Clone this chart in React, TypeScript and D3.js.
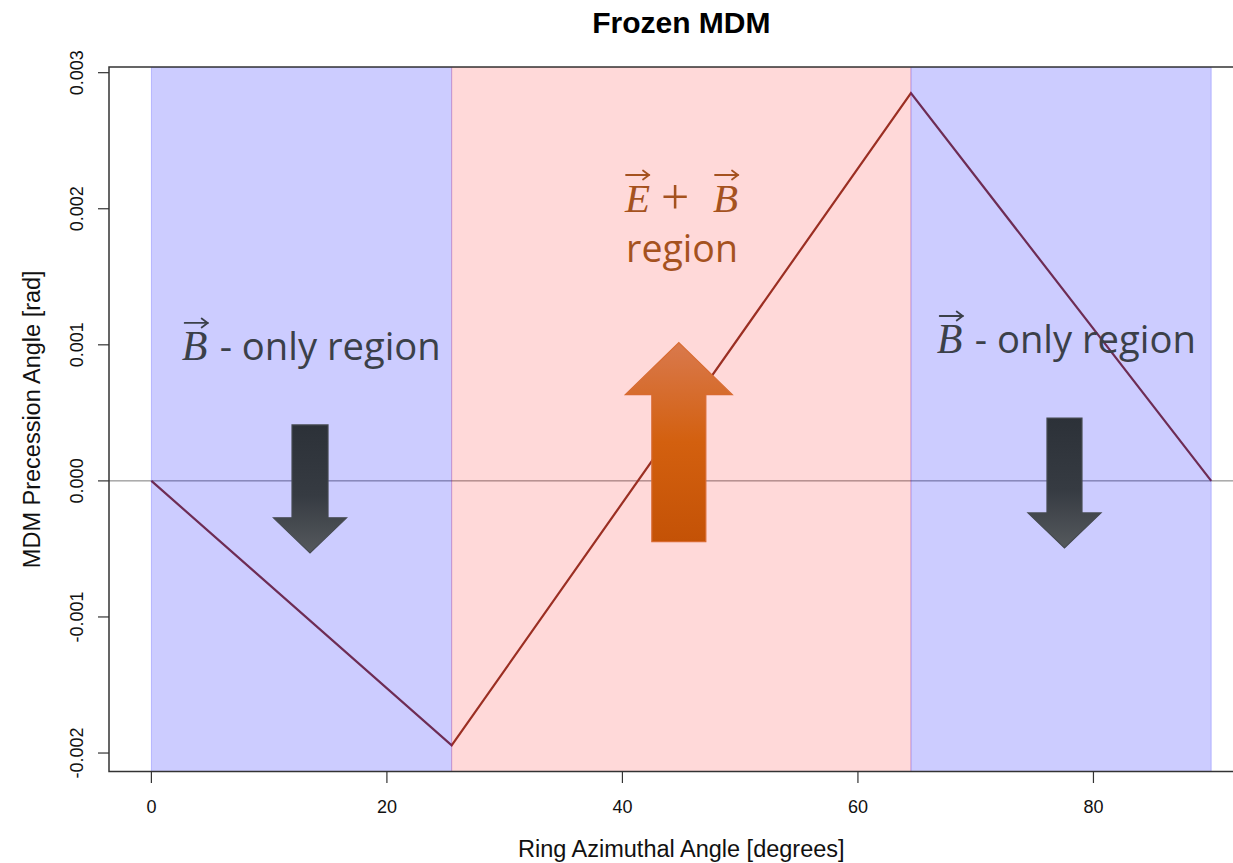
import React, { useEffect } from "react";
import * as d3 from "d3";

// Precession angle of the frozen MDM along the ring: break points of the piecewise-linear curve
const AZIMUTH_DEG = [0, 25.5, 64.5, 90];
const PRECESSION_RAD = [0, -0.001944, 0.00285, 0];

// Field regions along the azimuth
const REGION_START = [0, 25.5, 64.5];
const REGION_END = [25.5, 64.5, 90];
const REGION_KIND = ["B", "EB", "B"];

// Axis ticks
const X_TICKS = [0, 20, 40, 60, 80];
const X_TICK_LABELS = ["0", "20", "40", "60", "80"];
const Y_TICKS = [0.003, 0.002, 0.001, 0, -0.001, -0.002];
const Y_TICK_LABELS = ["0.003", "0.002", "0.001", "0.000", "-0.001", "-0.002"];

const TITLE = "Frozen MDM";
const X_TITLE = "Ring Azimuthal Angle [degrees]";
const Y_TITLE = "MDM Precession Angle [rad]";

const W = 1233;
const H = 863;
const PLOT = { left: 109, top: 67, right: 1253.6, bottom: 771.5 };

const SANS = "'Liberation Sans', Arial, Helvetica, sans-serif";
const NOTE_SANS = "'Open Sans', 'Noto Sans', sans-serif";
const MATH = "'Liberation Serif', 'DejaVu Serif', serif";

const REGION_FILL: Record<string, string> = {
  B: "rgba(0,0,255,0.2)",
  EB: "rgba(255,0,0,0.15)",
};

function padded(values: number[]): [number, number] {
  const [lo, hi] = d3.extent(values) as [number, number];
  const pad = (hi - lo) * 0.04;
  return [lo - pad, hi + pad];
}

// Block arrow from yBase towards yTip (down or up)
function blockArrow(cx: number, yBase: number, yTip: number, shaftW: number, headW: number, headL: number) {
  const dir = yTip > yBase ? 1 : -1;
  const yNeck = yTip - dir * headL;
  const p = d3.path();
  p.moveTo(cx - shaftW / 2, yBase);
  p.lineTo(cx + shaftW / 2, yBase);
  p.lineTo(cx + shaftW / 2, yNeck);
  p.lineTo(cx + headW / 2, yNeck);
  p.lineTo(cx, yTip);
  p.lineTo(cx - headW / 2, yNeck);
  p.lineTo(cx - shaftW / 2, yNeck);
  p.closePath();
  return p.toString();
}

function VecArrow({ x0, x1, y, color }: { x0: number; x1: number; y: number; color: string }) {
  return (
    <g stroke={color} strokeWidth={1.8} fill="none" strokeLinecap="round">
      <path d={`M${x0},${y}H${x1}`} />
      <path d={`M${x1 - 6},${y - 4.5}L${x1},${y}L${x1 - 6},${y + 4.5}`} />
    </g>
  );
}

function BOnlyLabel({ x, y }: { x: number; y: number }) {
  const col = "#3b4049";
  return (
    <g>
      <VecArrow x0={x + 3} x1={x + 26} y={y - 37} color={col} />
      <text x={x} y={y} fontFamily={MATH} fontStyle="italic" fontSize={42} fill={col}>
        B
      </text>
      <text x={x + 38} y={y} fontFamily={NOTE_SANS} fontSize={38.2} fill={col}>
        - only region
      </text>
    </g>
  );
}

export default function App() {
  useEffect(() => {
    document.body.style.margin = "0";
  }, []);

  const x = d3.scaleLinear().domain(padded(AZIMUTH_DEG)).range([PLOT.left, PLOT.right]);
  const y = d3.scaleLinear().domain(padded(PRECESSION_RAD)).range([PLOT.bottom, PLOT.top]);

  const points = AZIMUTH_DEG.map((a, i) => [a, PRECESSION_RAD[i]] as [number, number]);
  const line = d3
    .line<[number, number]>()
    .x((d) => x(d[0]))
    .y((d) => y(d[1]));

  const cxMid = (PLOT.left + PLOT.right) / 2;
  const cyMid = (PLOT.top + PLOT.bottom) / 2;

  // Annotation anchors in data units
  const leftLabel = { x: x(2.57), y: y(0.000889) };
  const rightLabel = { x: x(66.69), y: y(0.00094) };
  const midX = x(45.06);
  const midTop = y(0.001976);
  const midBottom = y(0.001609);

  const orange = "#a5521f";

  return (
    <svg width={W} height={H} style={{ display: "block", background: "#fff" }}>
      <defs>
        <linearGradient id="downGrad" x1="0" y1="0" x2="0" y2="1">
          <stop offset="0%" stopColor="#2c3138" />
          <stop offset="55%" stopColor="#363b42" />
          <stop offset="100%" stopColor="#55595d" />
        </linearGradient>
        <linearGradient id="upGrad" x1="0" y1="0" x2="0" y2="1">
          <stop offset="0%" stopColor="#d9794d" />
          <stop offset="50%" stopColor="#d3600f" />
          <stop offset="100%" stopColor="#c45206" />
        </linearGradient>
        <clipPath id="plotClip">
          <rect x={PLOT.left} y={PLOT.top} width={PLOT.right - PLOT.left} height={PLOT.bottom - PLOT.top} />
        </clipPath>
      </defs>

      {/* zero reference */}
      <line x1={PLOT.left} x2={PLOT.right} y1={y(0)} y2={y(0)} stroke="#7a7a7a" strokeWidth={1} />

      {/* precession curve */}
      <path d={line(points) || ""} fill="none" stroke="#8a382a" strokeWidth={2.2} />

      {/* translucent field regions */}
      <g clipPath="url(#plotClip)">
        {REGION_START.map((s, i) => (
          <rect
            key={i}
            x={x(s)}
            y={PLOT.top}
            width={x(REGION_END[i]) - x(s)}
            height={PLOT.bottom - PLOT.top}
            fill={REGION_FILL[REGION_KIND[i]]}
            stroke={REGION_FILL[REGION_KIND[i]]}
            strokeWidth={1}
          />
        ))}
      </g>

      {/* frame */}
      <rect
        x={PLOT.left}
        y={PLOT.top}
        width={PLOT.right - PLOT.left}
        height={PLOT.bottom - PLOT.top}
        fill="none"
        stroke="#333"
        strokeWidth={1.5}
      />

      {/* x axis */}
      <g>
        {X_TICKS.map((t, i) => (
          <g key={t}>
            <line x1={x(t)} x2={x(t)} y1={PLOT.bottom} y2={PLOT.bottom + 11.5} stroke="#333" strokeWidth={1.2} />
            <text x={x(t)} y={812.7} textAnchor="middle" fontFamily={SANS} fontSize={18} fill="#111">
              {X_TICK_LABELS[i]}
            </text>
          </g>
        ))}
      </g>

      {/* y axis */}
      <g>
        {Y_TICKS.map((t, i) => (
          <g key={t}>
            <line x1={PLOT.left - 11} x2={PLOT.left} y1={y(t)} y2={y(t)} stroke="#333" strokeWidth={1.2} />
            <text
              transform={`translate(83,${y(t)}) rotate(-90)`}
              textAnchor="middle"
              fontFamily={SANS}
              fontSize={18}
              fill="#111"
            >
              {Y_TICK_LABELS[i]}
            </text>
          </g>
        ))}
      </g>

      {/* titles */}
      <text x={cxMid} y={33} textAnchor="middle" fontFamily={SANS} fontWeight="bold" fontSize={30} fill="#000">
        {TITLE}
      </text>
      <text x={cxMid} y={856.7} textAnchor="middle" fontFamily={SANS} fontSize={23.5} fill="#111">
        {X_TITLE}
      </text>
      <text
        transform={`translate(40,${cyMid}) rotate(-90)`}
        textAnchor="middle"
        fontFamily={SANS}
        fontSize={23.5}
        fill="#111"
      >
        {Y_TITLE}
      </text>

      {/* region labels */}
      <BOnlyLabel x={leftLabel.x} y={leftLabel.y} />
      <BOnlyLabel x={rightLabel.x} y={rightLabel.y} />

      <g fill={orange}>
        <VecArrow x0={midX - 56} x1={midX - 33} y={midTop - 37} color={orange} />
        <text x={midX - 57} y={midTop} fontFamily={MATH} fontStyle="italic" fontSize={41}>
          E
        </text>
        <text x={midX - 7} y={midTop + 2} textAnchor="middle" fontFamily={MATH} fontSize={50}>
          +
        </text>
        <VecArrow x0={midX + 33} x1={midX + 56} y={midTop - 37} color={orange} />
        <text x={midX + 31} y={midTop} fontFamily={MATH} fontStyle="italic" fontSize={41}>
          B
        </text>
        <text x={midX} y={midBottom} textAnchor="middle" fontFamily={NOTE_SANS} fontSize={37.5}>
          region
        </text>
      </g>

      {/* direction arrows */}
      <path
        d={blockArrow(x(13.47), y(0.000411), y(-0.000529), 36, 73, 35)}
        fill="url(#downGrad)"
        stroke="#454a50"
        strokeWidth={1.2}
      />
      <path
        d={blockArrow(x(77.54), y(0.000462), y(-0.000493), 35, 73, 35)}
        fill="url(#downGrad)"
        stroke="#454a50"
        strokeWidth={1.2}
      />
      <path
        d={blockArrow(x(44.79), y(-0.000447), y(0.001016), 54, 107, 52)}
        fill="url(#upGrad)"
        stroke="#d86a30"
        strokeWidth={1.2}
      />
    </svg>
  );
}
